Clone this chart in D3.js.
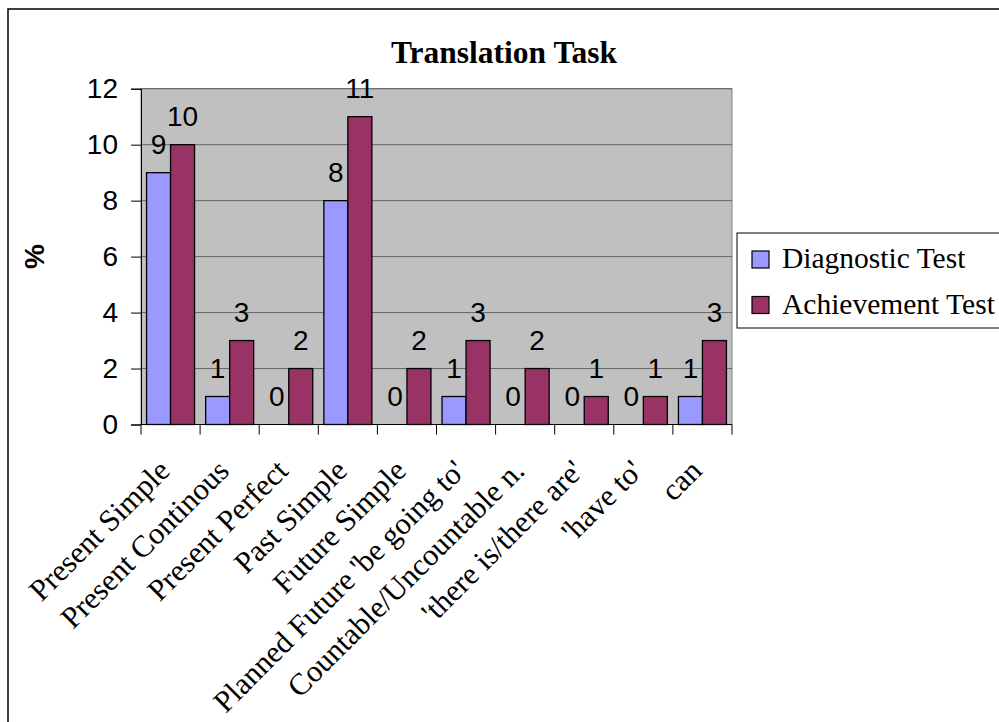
<!DOCTYPE html>
<html>
<head>
<meta charset="utf-8">
<script src="https://cdn.jsdelivr.net/npm/d3@7"></script>
<style>
  html, body { margin: 0; padding: 0; background: #fff; }
  svg { display: block; }
</style>
</head>
<body>
<svg id="chart" width="999" height="722"></svg>
<script>
const categories = ["Present Simple", "Present Continous", "Present Perfect", "Past Simple", "Future Simple",
  "Planned Future 'be going to'", "Countable/Uncountable n.", "'there is/there are'", "'have to'", "can"];
const seriesNames = ["Diagnostic Test", "Achievement Test"];
const diagnostic = [9, 1, 0, 8, 0, 1, 0, 0, 0, 1];
const achievement = [10, 3, 2, 11, 2, 3, 2, 1, 1, 3];
const yTicks = [0, 2, 4, 6, 8, 10, 12];
const colors = ["#9999FF", "#993366"];
const title = "Translation Task";
const yTitle = "%";

const svg = d3.select("#chart");
const serif = "'Liberation Serif', 'Times New Roman', serif";
const sans = "'Liberation Sans', Arial, sans-serif";

const plot = { left: 141, right: 732, top: 88.7, bottom: 424.5 };

// outer chart border
svg.append("rect").attr("x", 8).attr("y", 9).attr("width", 1000).attr("height", 730)
  .attr("fill", "#fff").attr("stroke", "#000").attr("stroke-width", 1.5);

const x0 = d3.scaleBand().domain(categories).range([plot.left, plot.right]).paddingInner(0).paddingOuter(0);
const x1 = d3.scaleBand().domain(seriesNames).range([0, x0.bandwidth()]).paddingInner(0).paddingOuter(0.231);
const y = d3.scaleLinear().domain([0, 12]).range([plot.bottom, plot.top]);

// plot background
svg.append("rect").attr("x", plot.left).attr("y", plot.top)
  .attr("width", plot.right - plot.left).attr("height", plot.bottom - plot.top)
  .attr("fill", "#C0C0C0").attr("stroke", "#808080").attr("stroke-width", 1);

// gridlines
svg.append("g").selectAll("line").data(yTicks.filter(d => d > 0)).join("line")
  .attr("x1", plot.left).attr("x2", plot.right)
  .attr("y1", d => y(d)).attr("y2", d => y(d))
  .attr("stroke", "#666").attr("stroke-width", 1);

// bars
const table = categories.map((c, i) => ({ cat: c, vals: [diagnostic[i], achievement[i]] }));
const groups = svg.append("g").selectAll("g").data(table).join("g")
  .attr("transform", d => `translate(${x0(d.cat)},0)`);
groups.selectAll("rect").data(d => d.vals.map((v, j) => ({ s: seriesNames[j], v, j })))
  .join("rect")
  .attr("x", d => x1(d.s)).attr("width", x1.bandwidth())
  .attr("y", d => y(d.v)).attr("height", d => plot.bottom - y(d.v))
  .attr("fill", d => colors[d.j]).attr("stroke", "#000").attr("stroke-width", 1.3)
  .attr("display", d => d.v > 0 ? null : "none");
groups.selectAll("text").data(d => d.vals.map((v, j) => ({ s: seriesNames[j], v, j })))
  .join("text")
  .attr("x", d => x1(d.s) + x1.bandwidth() / 2)
  .attr("y", d => y(d.v) - 19)
  .attr("text-anchor", "middle")
  .attr("font-family", sans).attr("font-size", 28).attr("fill", "#000")
  .text(d => d.v);

// y axis
const yAxis = d3.axisLeft(y).tickValues(yTicks).tickSize(10).tickPadding(13).tickFormat(d3.format("d"));
const yg = svg.append("g").attr("transform", `translate(${plot.left},0)`).call(yAxis);
yg.select(".domain").attr("stroke", "#000");
yg.selectAll(".tick line").attr("stroke", "#000");
yg.selectAll(".tick text").attr("font-family", sans).attr("font-size", 28).attr("fill", "#000");

// x axis (ticks at category boundaries)
const bounds = categories.map(c => x0(c)).concat([plot.right]);
svg.append("line").attr("x1", plot.left).attr("x2", plot.right)
  .attr("y1", plot.bottom).attr("y2", plot.bottom).attr("stroke", "#000").attr("stroke-width", 1);
svg.append("g").selectAll("line").data(bounds).join("line")
  .attr("x1", d => d).attr("x2", d => d)
  .attr("y1", plot.bottom).attr("y2", plot.bottom + 10)
  .attr("stroke", "#000").attr("stroke-width", 1);

svg.append("g").selectAll("text").data(categories).join("text")
  .attr("transform", d => `translate(${x0(d) + x0.bandwidth() / 2 + 1},${plot.bottom + 48}) rotate(-45)`)
  .attr("text-anchor", "end")
  .attr("font-family", serif).attr("font-size", 30.5).attr("fill", "#000")
  .text(d => d);

// title
svg.append("text").attr("x", 504).attr("y", 63).attr("text-anchor", "middle")
  .attr("font-family", serif).attr("font-weight", "bold").attr("font-size", 31.5)
  .text(title);

// y title
svg.append("text").attr("transform", `translate(44,${(plot.top + plot.bottom) / 2}) rotate(-90)`)
  .attr("text-anchor", "middle")
  .attr("font-family", sans).attr("font-weight", "bold").attr("font-size", 28)
  .text(yTitle);

// legend
const lg = svg.append("g");
lg.append("rect").attr("x", 737).attr("y", 233).attr("width", 300).attr("height", 95)
  .attr("fill", "#fff").attr("stroke", "#000").attr("stroke-width", 1);
const items = lg.selectAll("g").data(seriesNames).join("g")
  .attr("transform", (d, i) => `translate(752,${251 + i * 45.5})`);
items.append("rect").attr("width", 17).attr("height", 17)
  .attr("fill", (d, i) => colors[i]).attr("stroke", "#000").attr("stroke-width", 1.2);
items.append("text").attr("x", 30).attr("y", 17)
  .attr("font-family", serif).attr("font-size", 29.5).attr("fill", "#000")
  .text(d => d);
</script>
</body>
</html>
